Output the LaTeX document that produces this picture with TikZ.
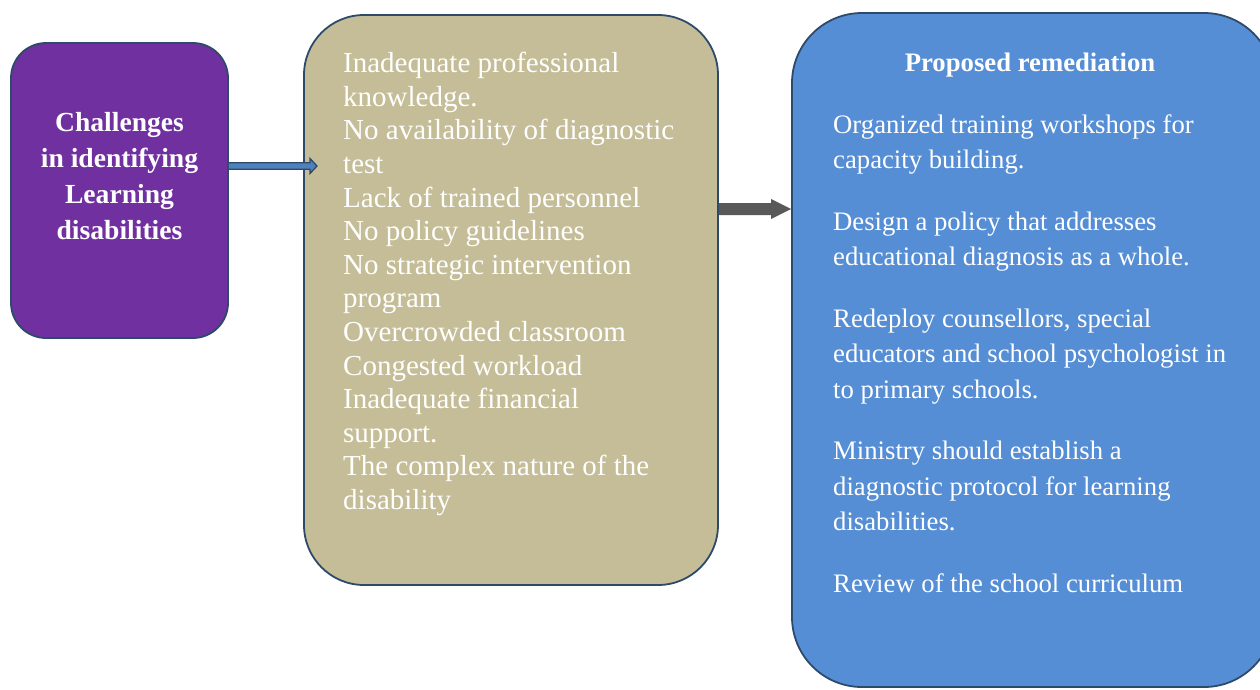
\documentclass[tikz,border=0pt]{standalone}
\usepackage{fontspec}
\setmainfont{Liberation Serif}
\usetikzlibrary{calc}
\definecolor{navy}{HTML}{2E4A6B}
\definecolor{purp}{HTML}{7030A0}
\definecolor{tan}{HTML}{C4BD97}
\definecolor{bluebox}{HTML}{558ED5}
\definecolor{arrblue}{HTML}{4F81BD}
\definecolor{arrgrey}{HTML}{595959}
\begin{document}
\begin{tikzpicture}[x=1pt,y=-1pt,
  box/.style={draw=navy, line width=1.8pt, inner sep=0pt},
  bodytext/.style={text=white, inner sep=0pt, align=left}]
\useasboundingbox (0,0) rectangle (1260,689);
\clip (0,0) rectangle (1260,689);
% boxes
\node[box, fill=purp, rounded corners=35pt, minimum width=217pt, minimum height=295pt] (chal) at (119.5,190.5) {};
\node[box, fill=tan, rounded corners=60pt, minimum width=414pt, minimum height=570pt] (prob) at (511,300) {};
\node[box, fill=bluebox, rounded corners=70pt, minimum width=482pt, minimum height=674pt] (rem) at (1033,350) {};
% texts
\node[text=white, inner sep=0pt, align=center, font=\fontsize{27.6}{36}\selectfont\bfseries, anchor=north] (chaltext) at (119.5,112)
  {Challenges\\in identifying\\Learning\\disabilities};
\node[bodytext, font=\fontsize{29}{33.6}\selectfont, anchor=north west] (probtext) at (343,52)
  {Inadequate professional\\knowledge.\\No availability of diagnostic\\test\\Lack of trained personnel\\No policy guidelines\\No strategic intervention\\program\\Overcrowded classroom\\Congested workload\\Inadequate financial\\support.\\The complex nature of the\\disability};
\node[text=white, inner sep=0pt, font=\fontsize{26.7}{30}\selectfont\bfseries, anchor=base] (remtitle) at (1030,71) {Proposed remediation};
\node[bodytext, font=\fontsize{26.7}{35.5}\selectfont, anchor=north west] (remtext) at (833,114)
  {Organized training workshops for\\capacity building.\\[26pt]
   Design a policy that addresses\\educational diagnosis as a whole.\\[26pt]
   Redeploy counsellors, special\\educators and school psychologist in\\to primary schools.\\[26pt]
   Ministry should establish a\\diagnostic protocol for learning\\disabilities.\\[26pt]
   Review of the school curriculum};
% arrow 1: thin blue block arrow
\coordinate (a1s) at (chal.east |- 0,166);
\coordinate (a1t) at (317,166);
\draw[navy, line width=1.3pt, fill=arrblue, line join=miter]
  ($(a1s)+(0,-3.3)$) -- ($(a1t)+(-7,-3.3)$) -- ($(a1t)+(-7,-7.5)$) -- (a1t)
  -- ($(a1t)+(-7,7.5)$) -- ($(a1t)+(-7,3.3)$) -- ($(a1s)+(0,3.3)$);
% arrow 2: grey block arrow
\coordinate (a2s) at (prob.east |- 0,209);
\coordinate (a2t) at (rem.west |- 0,209);
\fill[arrgrey]
  ($(a2s)+(0,-6)$) -- ($(a2t)+(-20,-6)$) -- ($(a2t)+(-20,-10)$) -- (a2t)
  -- ($(a2t)+(-20,10)$) -- ($(a2t)+(-20,6)$) -- ($(a2s)+(0,6)$) -- cycle;
\end{tikzpicture}
\end{document}
